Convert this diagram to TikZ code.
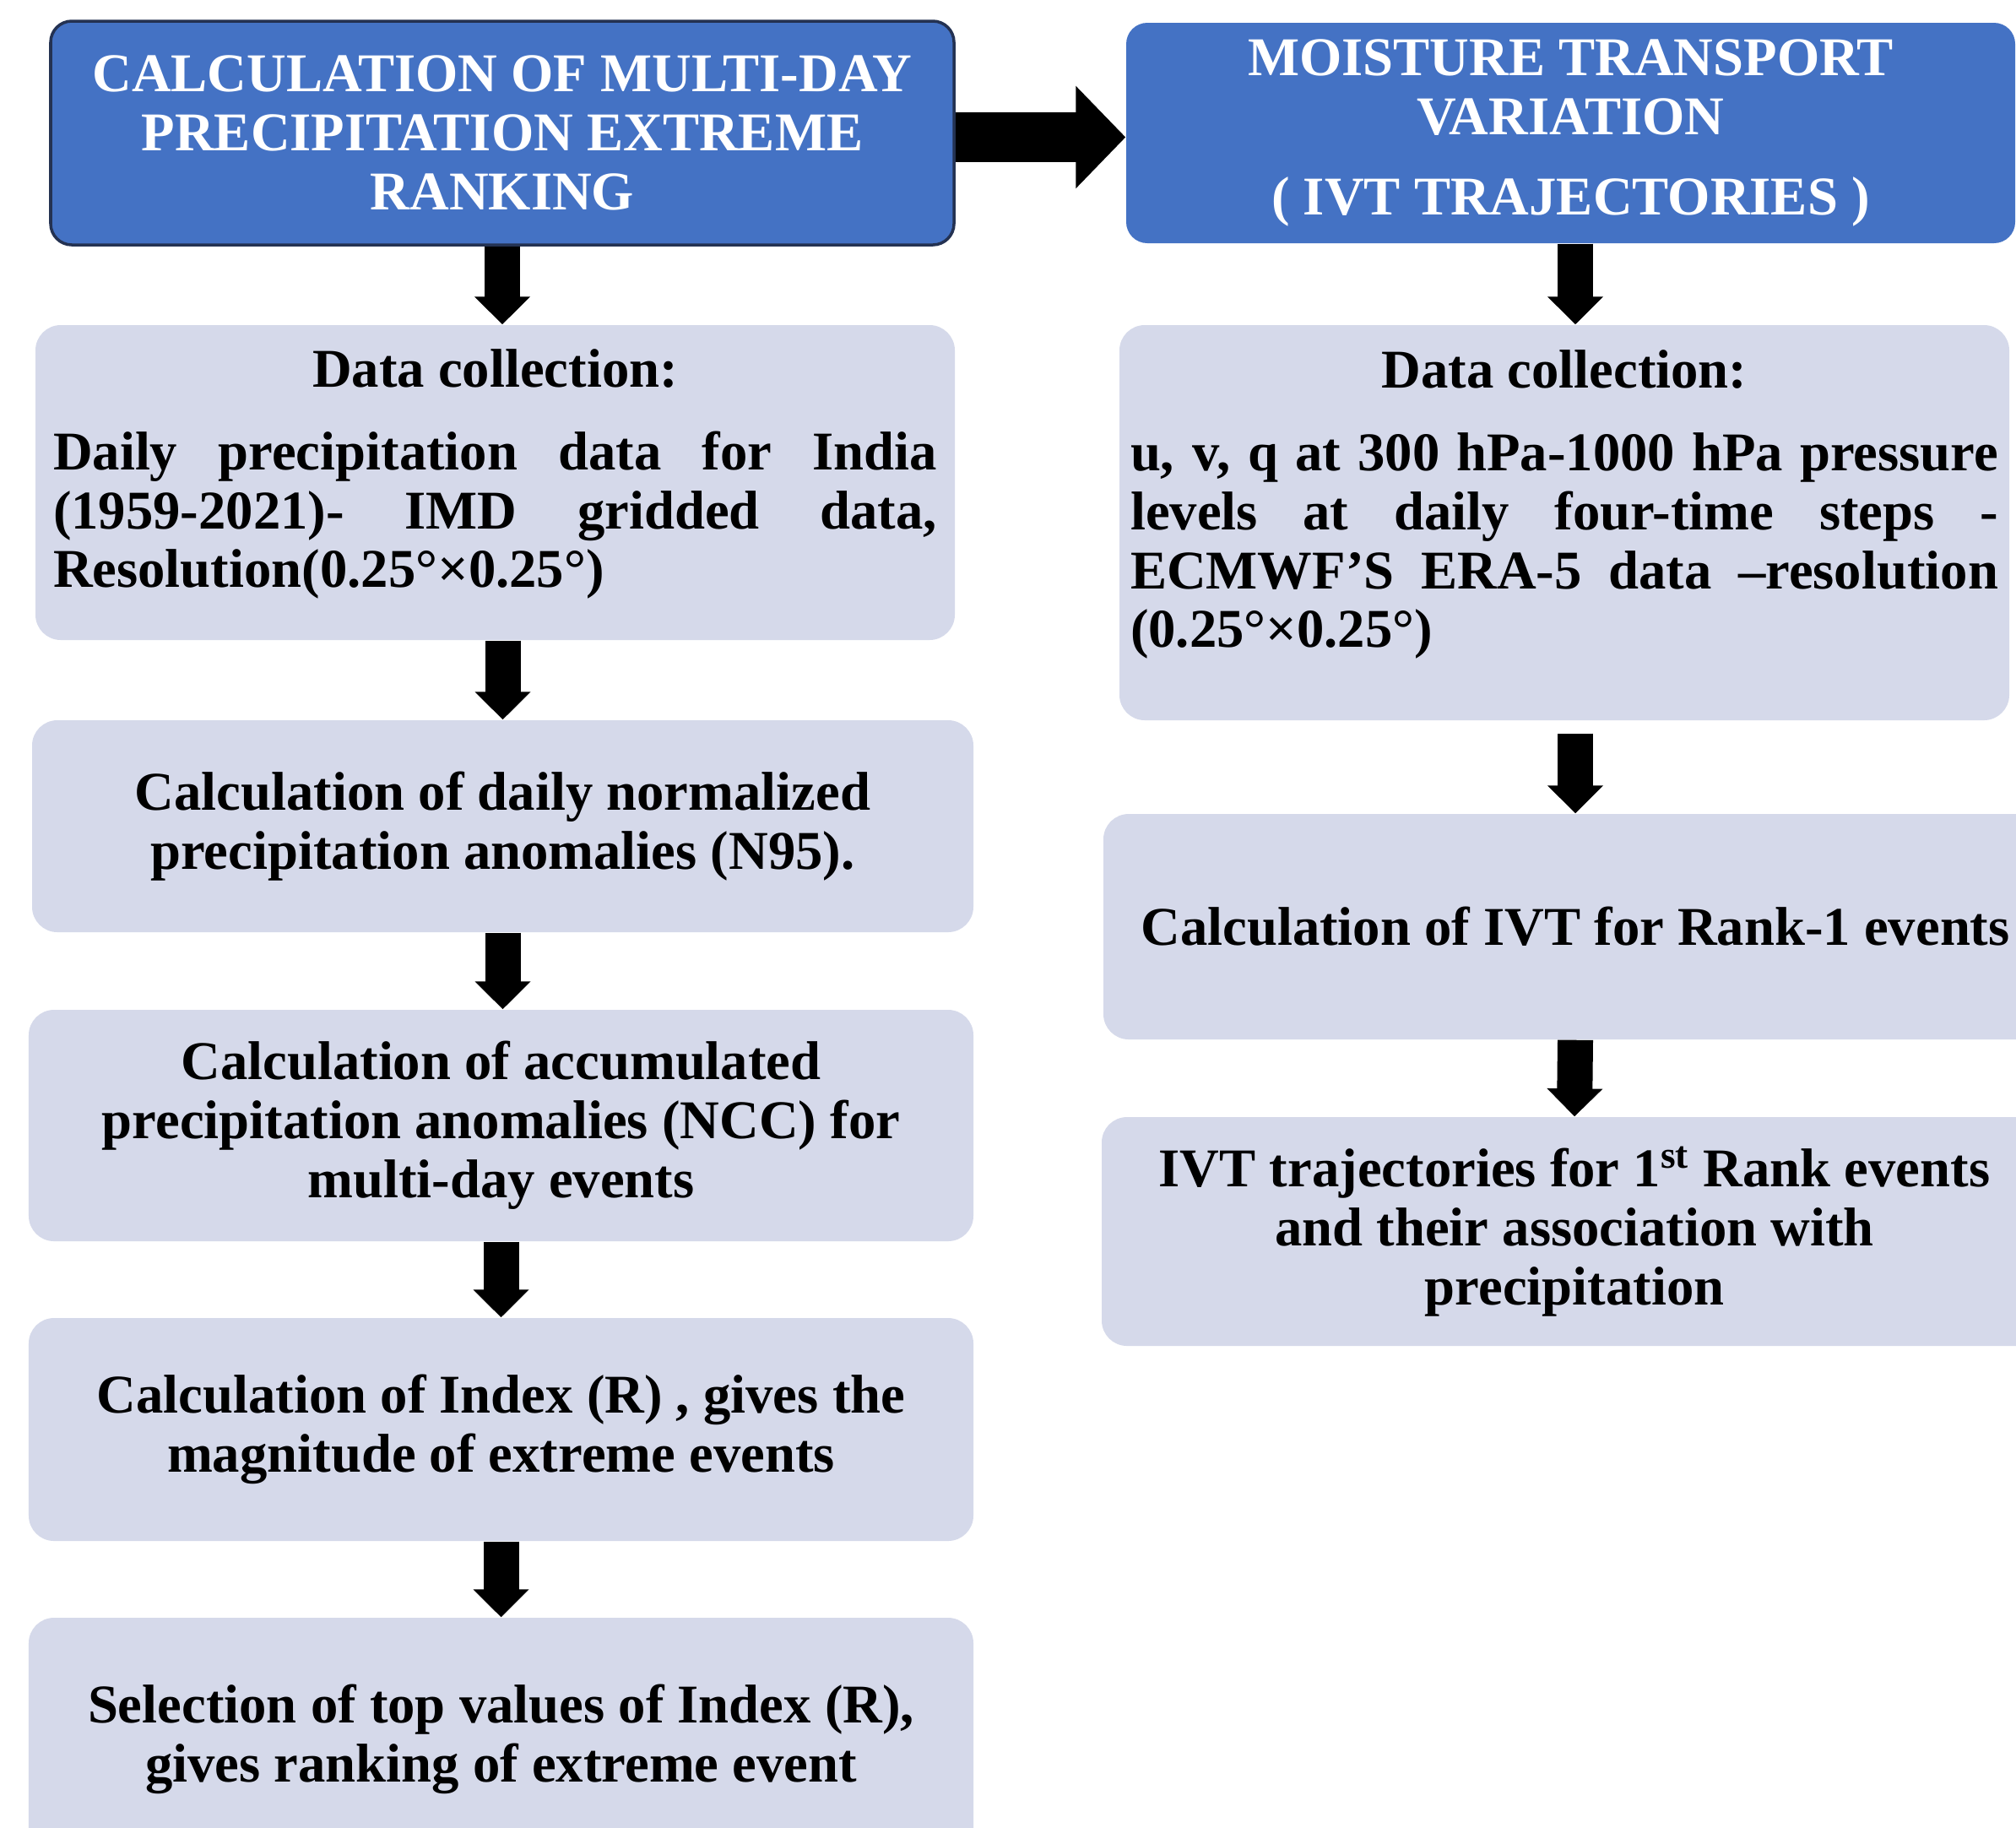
\documentclass[tikz,border=0pt]{standalone}
\usepackage{fontspec}
\setmainfont{Liberation Serif}
\usepackage{tikz}
\usetikzlibrary{calc}
\usetikzlibrary{arrows.meta}
\usepackage{xcolor}
\definecolor{titleBlue}{RGB}{68,114,196}
\definecolor{boxGray}{RGB}{213,217,234}
\definecolor{edgeNavy}{RGB}{36,50,82}

\tikzset{
  titlebox/.style={fill=titleBlue, rounded corners=0.25cm, text=white, align=center,
    inner sep=0pt, font=\fontsize{18.4}{19.9}\selectfont\bfseries},
  stepbox/.style={fill=boxGray, rounded corners=0.3cm, align=center,
    inner sep=0pt, font=\fontsize{18.4}{19.9}\selectfont\bfseries},
  databox/.style={stepbox, align=justify},
  downarrow/.style={line width=0.42cm, -{Triangle[width=0.64cm,length=0.33cm]}},
  sidearrow/.style={line width=0.59cm, -{Triangle[width=1.18cm,length=0.59cm]}},
}

\begin{document}
\begin{tikzpicture}
\coordinate (C) at (0, 0);
% page size of the original figure
\fill[white] ($(C)$) rectangle ($(C)+(23.88,-21.64)$);
\useasboundingbox ($(C)$) rectangle ($(C)+(23.88,-21.64)$);
\clip ($(C)$) rectangle ($(C)+(23.88,-21.64)$);

%%%%%%%%%%%%%%%%%%%%%%%%%%%%%%%%%%%%%%%%%%%%%%%%%%%%%%%%%%%%%% Left column
\node[titlebox, draw=edgeNavy, line width=1pt, minimum width=10.70cm, minimum height=2.65cm]
  (rank) at ($(C)+(5.95,-1.575)$)
  {CALCULATION OF MULTI-DAY\\ PRECIPITATION EXTREME\\ RANKING};

\node[databox, text width=10.47cm, minimum width=10.89cm, minimum height=3.73cm]
  (imd) at ($(C)+(5.865,-5.715)$)
  {{\centering Data collection:\par}\vspace{0.28cm}
   Daily precipitation data for India\linebreak
   (1959-2021)- IMD gridded data,\linebreak
   Resolution(0.25°×0.25°)\par\vspace*{0.2cm}\hrule height 0pt};

\node[stepbox, minimum width=11.15cm, minimum height=2.51cm]
  (norm) at ($(C)+(5.955,-9.785)$)
  {Calculation of daily normalized\\ precipitation anomalies (N95).};

\node[stepbox, minimum width=11.19cm, minimum height=2.74cm]
  (accum) at ($(C)+(5.935,-13.33)$)
  {Calculation of accumulated\\ precipitation anomalies (NCC) for\\ multi-day events};

\node[stepbox, minimum width=11.19cm, minimum height=2.64cm]
  (index) at ($(C)+(5.935,-16.93)$)
  {Calculation of Index (R) , gives the\\ magnitude of extreme events};

\node[stepbox, minimum width=11.19cm, minimum height=2.88cm]
  (select) at ($(C)+(5.935,-20.60)$)
  {Selection of top values of Index (R),\\ gives ranking of extreme event};

\draw[downarrow] (rank.south) -- (rank.south |- imd.north);
\draw[downarrow] (imd.south -| norm.north) -- (norm.north);
\draw[downarrow] (norm.south) -- (accum.north -| norm.south);
\draw[downarrow] (accum.south) -- (index.north);
\draw[downarrow] (index.south) -- (select.north);

%%%%%%%%%%%%%%%%%%%%%%%%%%%%%%%%%%%%%%%%%%%%%%%%%%%%%%%%%%%%%% Right column
\node[titlebox, minimum width=10.53cm, minimum height=2.61cm]
  (moist) at ($(C)+(18.605,-1.575)$)
  {MOISTURE TRANSPORT\\ VARIATION\\[0.26cm] ( IVT TRAJECTORIES )};

\node[databox, text width=10.28cm, minimum width=10.54cm, minimum height=4.68cm]
  (era) at ($(C)+(18.53,-6.19)$)
  {{\centering Data collection:\par}\vspace{0.28cm}
   u, v, q at 300 hPa-1000 hPa pressure\linebreak
   levels at daily four-time steps -\linebreak
   ECMWF’S ERA-5 data –resolution\linebreak
   (0.25°×0.25°)\par\vspace*{0.43cm}\hrule height 0pt};

\node[stepbox, minimum width=11.18cm, minimum height=2.67cm]
  (ivt) at ($(C)+(18.66,-10.975)$)
  {Calculation of IVT for Rank-1 events};

\node[stepbox, minimum width=11.20cm, minimum height=2.71cm]
  (traj) at ($(C)+(18.65,-14.585)$)
  {IVT trajectories for 1\textsuperscript{st} Rank events\\ and their association with\\ precipitation};

\draw[downarrow] (moist.south -| ivt.north) -- (era.north -| ivt.north);
\draw[downarrow, shorten <=0.15cm] (era.south -| ivt.north) -- (ivt.north);
\draw[downarrow] (ivt.south) -- (traj.north);

%%%%%%%%%%%%%%%%%%%%%%%%%%%%%%%%%%%%%%%%%%%%%%%%%%%%%%%%%%%%%% Link
\draw[sidearrow] ([yshift=-0.05cm]rank.east) -- ([yshift=-0.05cm]moist.west);

\end{tikzpicture}
\end{document}
